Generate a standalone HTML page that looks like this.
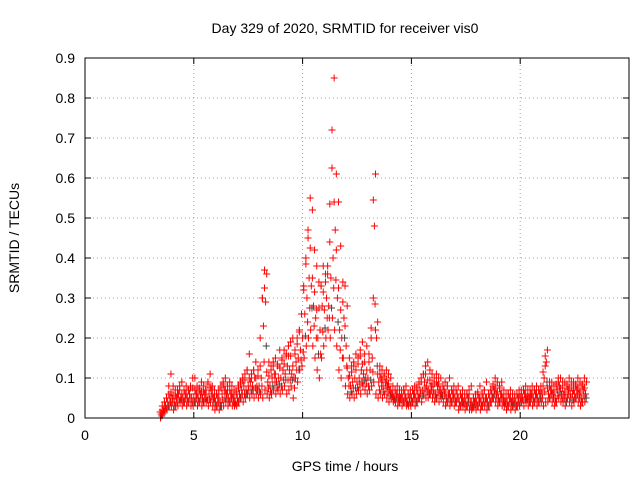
<!DOCTYPE html>
<html><head><meta charset="utf-8">
<style>
html,body{margin:0;padding:0;background:#fff;}
svg{display:block;font-family:"Liberation Sans",sans-serif;}
</style></head>
<body>
<svg id="chart" width="640" height="480" viewBox="0 0 640 480">
<text x="345" y="33" font-size="14" text-anchor="middle">Day 329 of 2020, SRMTID for receiver vis0</text>
<text x="345" y="471" font-size="14" text-anchor="middle">GPS time / hours</text>
<text transform="translate(19,238) rotate(-90)" font-size="14" text-anchor="middle">SRMTID / TECUs</text>
<g id="grid"></g><g id="ticks"></g><g id="marks"></g>
<rect x="85" y="58" width="544" height="360" fill="none" stroke="#000" stroke-width="1"/>
</svg>
<script>
const xTicks=[0,5,10,15,20];
const yTicks=[0,0.1,0.2,0.3,0.4,0.5,0.6,0.7,0.8,0.9];
const yTickLabels=["0","0.1","0.2","0.3","0.4","0.5","0.6","0.7","0.8","0.9"];
const tStart=3.5, tStep=0.1;
const yLow=[0,0.01,0.02,0.02,0.03,
0.03,0.02,0.03,0.03,0.04,0.03,0.04,0.03,0.04,0.03,
0.03,0.04,0.03,0.04,0.03,0.04,0.04,0.03,0.04,0.03,
0.02,0.03,0.02,0.03,0.03,0.04,0.03,0.04,0.03,0.03,
0.03,0.04,0.05,0.04,0.05,0.06,0.05,0.06,0.05,0.06,
0.05,0.06,0.05,0.07,0.06,0.05,0.06,0.07,0.06,0.07,
0.06,0.07,0.08,0.06,0.07,0.08,0.05,0.1,0.09,0.12,
0.13,0.15,0.18,0.2,0.22,0.18,0.15,0.12,0.1,0.15,
0.18,0.2,0.22,0.2,0.25,0.22,0.18,0.12,0.1,0.15,
0.08,0.06,0.05,0.06,0.05,0.06,0.07,0.06,0.08,0.07,
0.06,0.07,0.08,0.09,0.06,0.05,0.06,0.05,0.06,0.05,
0.04,0.05,0.04,0.04,0.03,0.04,0.03,0.04,0.03,0.03,
0.03,0.04,0.03,0.04,0.05,0.04,0.06,0.05,0.05,0.06,
0.05,0.04,0.05,0.04,0.05,0.04,0.03,0.04,0.03,0.04,
0.03,0.04,0.02,0.03,0.03,0.02,0.03,0.02,0.02,0.03,
0.02,0.03,0.02,0.03,0.03,0.02,0.03,0.04,0.05,0.04,
0.03,0.04,0.03,0.03,0.02,0.03,0.02,0.03,0.02,0.03,
0.03,0.04,0.03,0.04,0.03,0.04,0.03,0.04,0.03,0.04,
0.04,0.03,0.04,0.04,0.05,0.04,0.03,0.04,0.05,0.04,
0.04,0.03,0.05,0.04,0.03,0.04,0.05,0.04,0.03,0.04,
0.04];
const yMid=[0.01,0.02,0.03,0.04,0.05,
0.05,0.04,0.05,0.06,0.05,0.05,0.06,0.05,0.06,0.05,
0.05,0.06,0.05,0.06,0.05,0.06,0.05,0.06,0.07,0.05,
0.04,0.05,0.04,0.06,0.07,0.06,0.05,0.06,0.05,0.04,
0.05,0.06,0.07,0.08,0.07,0.08,0.09,0.08,0.1,0.08,
0.08,0.1,0.23,0.29,0.09,0.08,0.1,0.11,0.09,0.1,
0.1,0.12,0.11,0.13,0.12,0.11,0.1,0.14,0.15,0.17,
0.2,0.26,0.3,0.35,0.33,0.28,0.25,0.2,0.22,0.28,
0.27,0.3,0.28,0.35,0.4,0.47,0.3,0.22,0.2,0.25,
0.18,0.1,0.08,0.09,0.1,0.09,0.1,0.12,0.11,0.1,
0.1,0.12,0.15,0.48,0.2,0.09,0.1,0.08,0.09,0.08,
0.07,0.06,0.05,0.06,0.05,0.05,0.05,0.06,0.04,0.05,
0.05,0.06,0.05,0.06,0.07,0.07,0.09,0.08,0.07,0.08,
0.07,0.06,0.08,0.07,0.06,0.07,0.05,0.06,0.05,0.06,
0.05,0.06,0.04,0.05,0.04,0.04,0.05,0.04,0.03,0.04,
0.04,0.05,0.04,0.05,0.05,0.04,0.05,0.06,0.07,0.06,
0.05,0.06,0.05,0.04,0.04,0.05,0.04,0.04,0.04,0.05,
0.05,0.05,0.06,0.05,0.05,0.06,0.05,0.06,0.05,0.06,
0.06,0.1,0.14,0.06,0.07,0.06,0.05,0.07,0.08,0.06,
0.06,0.05,0.07,0.06,0.06,0.06,0.07,0.06,0.05,0.07,
0.06];
const yHigh=[0.02,0.04,0.05,0.06,0.11,
0.08,0.07,0.06,0.08,0.09,0.07,0.08,0.07,0.08,0.1,
0.1,0.08,0.07,0.09,0.08,0.07,0.09,0.11,0.08,0.07,
0.06,0.07,0.08,0.09,0.1,0.08,0.09,0.08,0.07,0.06,
0.08,0.09,0.1,0.11,0.12,0.16,0.11,0.12,0.14,0.12,
0.13,0.3,0.37,0.36,0.14,0.13,0.14,0.15,0.13,0.17,
0.15,0.17,0.16,0.18,0.19,0.2,0.16,0.2,0.22,0.26,
0.32,0.4,0.47,0.55,0.52,0.42,0.38,0.34,0.33,0.38,
0.36,0.38,0.44,0.72,0.85,0.61,0.54,0.43,0.34,0.33,
0.28,0.15,0.13,0.14,0.16,0.15,0.17,0.19,0.16,0.18,
0.14,0.2,0.3,0.61,0.24,0.13,0.12,0.11,0.12,0.11,
0.1,0.08,0.07,0.08,0.07,0.07,0.07,0.08,0.06,0.07,
0.07,0.08,0.07,0.09,0.1,0.11,0.13,0.14,0.12,0.11,
0.1,0.11,0.1,0.1,0.08,0.09,0.08,0.1,0.07,0.08,
0.07,0.08,0.06,0.07,0.06,0.06,0.07,0.08,0.05,0.06,
0.06,0.08,0.06,0.07,0.09,0.06,0.07,0.08,0.1,0.09,
0.08,0.09,0.07,0.06,0.06,0.07,0.06,0.06,0.06,0.07,
0.07,0.07,0.08,0.07,0.06,0.08,0.07,0.08,0.07,0.08,
0.08,0.13,0.17,0.09,0.09,0.08,0.08,0.1,0.1,0.09,
0.09,0.08,0.1,0.09,0.09,0.08,0.1,0.09,0.08,0.1,
0.09];
const NS="http://www.w3.org/2000/svg";
const X0=85,X1=629,Y0=418,Y1=58;
const xS=v=>X0+(v/25)*(X1-X0);
const yS=v=>Y0-(v/0.9)*(Y0-Y1);
const grid=document.getElementById('grid'),ticks=document.getElementById('ticks'),marks=document.getElementById('marks');
function mk(tag,attrs,parent){const e=document.createElementNS(NS,tag);for(const k in attrs)e.setAttribute(k,attrs[k]);parent.appendChild(e);return e;}
xTicks.forEach(t=>{
  const x=xS(t);
  if(t>0){const g=mk('line',{x1:x,x2:x,y1:Y0,y2:Y1,stroke:'#a0a0a0','stroke-dasharray':'1,3'},grid);
  
  }
  const l=mk('text',{x:x,y:Y0+22,'font-size':14,'text-anchor':'middle'},ticks);l.textContent=String(t);
  
  
  mk('line',{x1:x,x2:x,y1:Y0,y2:Y0-6,stroke:'#000'},ticks);
  mk('line',{x1:x,x2:x,y1:Y1,y2:Y1+6,stroke:'#000'},ticks);
});
yTicks.forEach((t,i)=>{
  const y=yS(t);
  if(t>0&&t<0.9){const g=mk('line',{x1:X0,x2:X1,y1:y,y2:y,stroke:'#a0a0a0','stroke-dasharray':'1,3'},grid);
  
  }
  const l=mk('text',{x:X0-10,y:y+5,'font-size':14,'text-anchor':'end'},ticks);l.textContent=yTickLabels[i];
  
  
  mk('line',{x1:X0,x2:X0+6,y1:y,y2:y,stroke:'#000'},ticks);
  mk('line',{x1:X1,x2:X1-6,y1:y,y2:y,stroke:'#000'},ticks);
});
function plus(t,v,col){
  const x=xS(t),y=yS(v);
  const p=mk('path',{d:`M${x-3.5},${y}h7M${x},${y-3.5}v7`,stroke:col,'stroke-width':1,fill:'none'},marks);
  
  
}
yMid.forEach((m,i)=>{
  const t=tStart+i*tStep, lo=yLow[i], hi=yHigh[i];
  plus(t-0.03,lo,'red');
  plus(t+0.03,(lo+m)/2,i%3===0?'#444':'red');
  plus(t,m,'red');
  plus(t-0.05,(m+hi)/2,'red');
  plus(t+0.05,hi,'red');
});
</script>
</body></html>
